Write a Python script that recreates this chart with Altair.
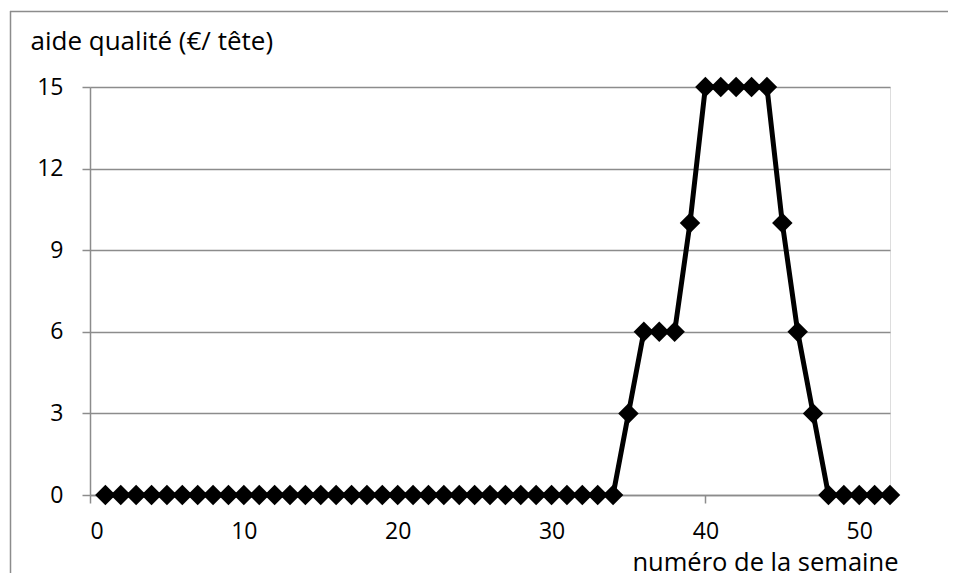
import altair as alt
import pandas as pd

weeks = list(range(1, 53))
aide = [0]*34 + [3, 6, 6, 6, 10, 15, 15, 15, 15, 15, 10, 6, 3] + [0]*5

x_ticks = [0, 10, 20, 30, 40, 50]
y_ticks = [0, 3, 6, 9, 12, 15]

df = pd.DataFrame({"semaine": weeks, "aide": aide})

FONT = "Open Sans"
GRAY = "#8c8c8c"

x_enc = alt.X("semaine:Q",
              scale=alt.Scale(domain=[0, 52], nice=False, zero=False),
              axis=alt.Axis(values=x_ticks, grid=False, title="numéro de la semaine",
                            domainColor=GRAY, domainWidth=1.5, tickColor=GRAY, tickWidth=1.5,
                            tickSize=8, labelPadding=35.5, labelBaseline="alphabetic",
                            labelFont=FONT, labelFontSize=23,
                            labelColor="black", titleFont=FONT, titleFontSize=25.5,
                            titleFontWeight="normal", titleColor="black",
                            titleAnchor="end", titleAlign="right", titleBaseline="alphabetic",
                            titleX=808, titleY=75.5))
y_enc = alt.Y("aide:Q",
              scale=alt.Scale(domain=[0, 15], nice=False),
              axis=alt.Axis(values=y_ticks, grid=True, gridColor=GRAY, gridWidth=1.5,
                            title="aide qualité (€/ tête)",
                            domainColor=GRAY, domainWidth=1.5, tickColor=GRAY, tickWidth=1.5,
                            tickSize=8, labelPadding=19, labelFont=FONT, labelFontSize=23,
                            labelColor="black", titleFont=FONT, titleFontSize=26,
                            titleFontWeight="normal", titleColor="black", titleAngle=0,
                            titleAlign="left", titleBaseline="alphabetic",
                            titleX=-60, titleY=-38))

base = alt.Chart(df)
line = base.mark_line(color="black", strokeWidth=5).encode(x=x_enc, y=y_enc)
pts = base.mark_point(shape="diamond", filled=True, color="black", size=420, opacity=1).encode(
    x="semaine:Q", y="aide:Q")

border_top = alt.Chart(pd.DataFrame({"a": [0]})).mark_rule(color=GRAY, strokeWidth=1.5).encode(
    x=alt.value(-80), x2=alt.value(870), y=alt.value(-75.5))
border_left = alt.Chart(pd.DataFrame({"a": [0]})).mark_rule(color=GRAY, strokeWidth=1.5).encode(
    x=alt.value(-79.5), y=alt.value(-76), y2=alt.value(500))

chart = alt.layer(line, pts, border_top, border_left).properties(
    width=800, height=408,
    autosize=alt.AutoSizeParams(type="none"),
    padding={"left": 82, "top": 79, "right": 58, "bottom": 78},
).configure_view(stroke=None).configure(background="white")

chart.save("out.html", embed_options={"renderer": "svg", "actions": False})
